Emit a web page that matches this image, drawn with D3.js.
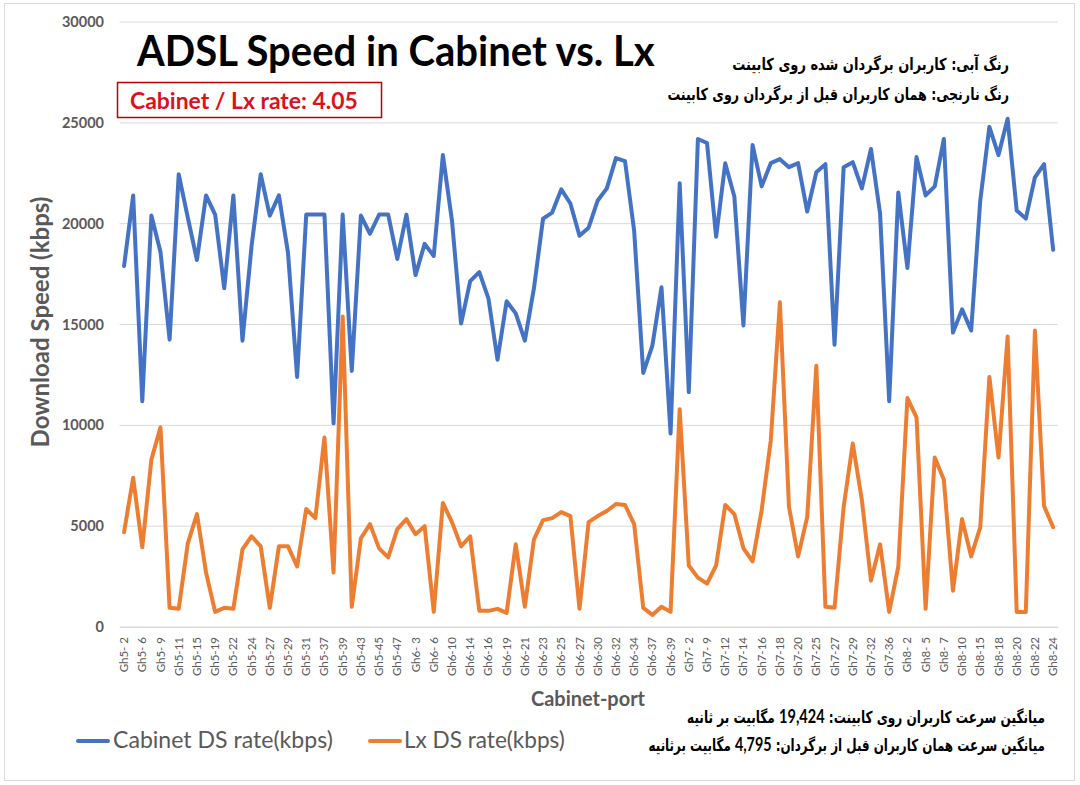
<!DOCTYPE html>
<html>
<head>
<meta charset="utf-8">
<script src="https://cdn.jsdelivr.net/npm/d3@7"></script>
<style>
  body { margin: 0; background: #fff; }
  svg { display: block; }
  text { font-family: Lato, "Open Sans", sans-serif; }
  .fa { font-family: "DejaVu Sans", sans-serif; font-weight: bold; }
</style>
</head>
<body>
<div id="chart"></div>
<script>
"use strict";

let svgWidth = 1080;
let svgHeight = 785;

/* Data */
let ports = [
  "Gh5- 2", "Gh5- 4", "Gh5- 6", "Gh5- 8", "Gh5- 9", "Gh5-10", "Gh5-11", "Gh5-13", "Gh5-15", "Gh5-17",
  "Gh5-19", "Gh5-21", "Gh5-22", "Gh5-23", "Gh5-24", "Gh5-25", "Gh5-27", "Gh5-28", "Gh5-29", "Gh5-30",
  "Gh5-31", "Gh5-35", "Gh5-37", "Gh5-38", "Gh5-39", "Gh5-41", "Gh5-43", "Gh5-44", "Gh5-45", "Gh5-46",
  "Gh5-47", "Gh6- 1", "Gh6- 3", "Gh6- 4", "Gh6- 6", "Gh6- 8", "Gh6-10", "Gh6-12", "Gh6-14", "Gh6-15",
  "Gh6-16", "Gh6-18", "Gh6-19", "Gh6-20", "Gh6-21", "Gh6-22", "Gh6-23", "Gh6-24", "Gh6-25", "Gh6-26",
  "Gh6-27", "Gh6-29", "Gh6-30", "Gh6-31", "Gh6-32", "Gh6-33", "Gh6-34", "Gh6-36", "Gh6-37", "Gh6-38",
  "Gh6-39", "Gh6-40", "Gh7- 2", "Gh7- 5", "Gh7- 9", "Gh7-11", "Gh7-12", "Gh7-13", "Gh7-14", "Gh7-15",
  "Gh7-16", "Gh7-17", "Gh7-18", "Gh7-19", "Gh7-20", "Gh7-22", "Gh7-25", "Gh7-26", "Gh7-27", "Gh7-28",
  "Gh7-29", "Gh7-30", "Gh7-32", "Gh7-34", "Gh7-36", "Gh8- 1", "Gh8- 2", "Gh8- 3", "Gh8- 5", "Gh8- 6",
  "Gh8- 7", "Gh8- 9", "Gh8-10", "Gh8-12", "Gh8-15", "Gh8-17", "Gh8-18", "Gh8-19", "Gh8-20", "Gh8-21",
  "Gh8-22", "Gh8-23", "Gh8-24"
];

// kbps, blue series
let cabinetRate = [
  17900, 21400, 11200, 20400, 18600, 14250, 22450, 20300, 18200, 21400,
  20450, 16800, 21400, 14200, 18900, 22450, 20400, 21400, 18550, 12400,
  20450, 20450, 20450, 10100, 20450, 12700, 20400, 19500, 20450, 20450,
  18250, 20450, 17450, 19000, 18400, 23400, 20150, 15050, 17150, 17600,
  16300, 13250, 16150, 15550, 14200, 16800, 20250, 20550, 21700, 21000,
  19400, 19800, 21150, 21750, 23250, 23100, 19650, 12600, 13950, 16850,
  9600, 22000, 11650, 24200, 24000, 19350, 23000, 21350, 14950, 23900,
  21850, 23000, 23200, 22800, 23000, 20600, 22550, 22950, 14000, 22800,
  23050, 21750, 23700, 20500, 11200, 21550, 17800, 23300, 21400, 21850,
  24200, 14600, 15750, 14700, 21150, 24800, 23400, 25200, 20650, 20250,
  22300, 22950, 18700
];

// kbps, orange series
let lxRate = [
  4700, 7400, 3950, 8300, 9900, 950, 900, 4150, 5600, 2700,
  750, 950, 900, 3850, 4500, 4000, 950, 4000, 4000, 3000,
  5850, 5400, 9400, 2700, 15400, 1000, 4400, 5100, 3900, 3450,
  4850, 5350, 4600, 5000, 750, 6150, 5200, 4000, 4500, 800,
  800, 900, 700, 4100, 1000, 4350, 5300, 5400, 5700, 5500,
  900, 5200, 5500, 5750, 6100, 6050, 5100, 950, 600, 1000,
  750, 10800, 3050, 2450, 2150, 3050, 6050, 5600, 3900, 3250,
  5800, 9250, 16100, 5950, 3500, 5450, 12950, 1000, 950, 5950,
  9100, 6300, 2300, 4100, 750, 3000, 11350, 10400, 900, 8400,
  7300, 1800, 5350, 3500, 4950, 12400, 8400, 14400, 750, 750,
  14700, 6000, 4950
];

let yTicks = [0, 5000, 10000, 15000, 20000, 25000, 30000];
let seriesNames = ["Cabinet DS rate(kbps)", "Lx DS rate(kbps)"];
let seriesColors = ["#4472C4", "#ED7D31"];

let titleText = "ADSL Speed in Cabinet vs. Lx";
let rateText = "Cabinet / Lx rate: 4.05";
let noteTop = [
  "رنگ آبی: کاربران برگردان شده روی کابینت",
  "رنگ نارنجی: همان کاربران قبل از برگردان روی کابینت"
];
let noteBottom = [
  ["میانگین سرعت کاربران روی کابینت: ", "19,424", " مگابیت بر ثانیه"],
  ["میانگین سرعت همان کاربران قبل از برگردان: ", "4,795", " مگابیت برثانیه"]
];

/* Layout */
let plotLeft = 119.5;
let plotRight = 1057.7;
let plotTop = 22;
let plotBottom = 627;
let grey = "#595959";

/* Canvas */
let svg = d3.select("#chart")
  .append("svg")
  .attr("width", svgWidth)
  .attr("height", svgHeight);

svg.append("rect")
  .attr("x", 4.5)
  .attr("y", 3.5)
  .attr("width", 1070)
  .attr("height", 777)
  .attr("fill", "#fff")
  .attr("stroke", "#d9d9d9");

/* scale the font so the text is a given width */
function fitWidth(sel, w) {
  let len = sel.node().getComputedTextLength();
  let fs = parseFloat(sel.attr("font-size"));
  sel.attr("font-size", fs * w / len);
  return sel;
}

/* keep the font size, squeeze the text sideways to a given width */
function squeeze(sel, x, y, w) {
  let len = sel.node().getComputedTextLength();
  sel.attr("transform", `translate(${x},${y}) scale(${w / len},1)`);
  return sel;
}

/* Scales */
let xScale = d3.scaleBand()
  .domain(ports)
  .range([plotLeft, plotRight]);

let xMid = d => xScale(d) + xScale.bandwidth() / 2;

let yScale = d3.scaleLinear()
  .domain([0, 30000])
  .range([plotBottom, plotTop]);

/* Gridlines */
svg.append("g")
  .selectAll("line")
  .data(yTicks)
  .enter()
  .append("line")
  .attr("x1", plotLeft)
  .attr("x2", plotRight)
  .attr("y1", d => yScale(d))
  .attr("y2", d => yScale(d))
  .attr("stroke", "#d9d9d9")
  .attr("stroke-width", 1);

/* Y axis numbers */
let yAxis = svg.append("g")
  .attr("transform", "translate(104,0)")
  .call(d3.axisLeft(yScale).tickValues(yTicks).tickSize(0).tickPadding(0).tickFormat(d3.format("d")));
yAxis.select(".domain").remove();
yAxis.selectAll("text")
  .attr("fill", grey)
  .attr("font-size", 14.5)
  .attr("font-weight", "bold")
  .attr("font-family", "Lato, sans-serif");

/* X axis labels, every second port */
let xAxis = svg.append("g")
  .attr("transform", `translate(0,${plotBottom})`)
  .call(d3.axisBottom(xScale).tickValues(ports.filter((d, i) => i % 2 === 0)).tickSize(0));
xAxis.select(".domain")
  .attr("stroke", "#d9d9d9");
xAxis.selectAll("text")
  .attr("transform", "rotate(-90)")
  .attr("x", -10)
  .attr("y", 0)
  .attr("dy", "0.35em")
  .attr("text-anchor", "end")
  .attr("fill", grey)
  .attr("font-size", 11.5)
  .attr("font-family", "Lato, sans-serif");

/* Lines */
let line = d3.line()
  .x(d => xMid(d.port))
  .y(d => yScale(d.v));

[cabinetRate, lxRate].forEach((vals, s) => {
  svg.append("path")
    .datum(ports.map((p, i) => ({ port: p, v: vals[i] })))
    .attr("fill", "none")
    .attr("stroke", seriesColors[s])
    .attr("stroke-width", 4)
    .attr("stroke-linejoin", "round")
    .attr("stroke-linecap", "round")
    .attr("d", line);
});

/* Axis titles */
fitWidth(svg.append("text")
  .attr("x", 588)
  .attr("y", 706)
  .attr("text-anchor", "middle")
  .attr("font-size", 17)
  .attr("font-weight", "bold")
  .attr("fill", grey)
  .text("Cabinet-port"), 114);

fitWidth(svg.append("text")
  .attr("transform", "translate(49,322) rotate(-90)")
  .attr("text-anchor", "middle")
  .attr("font-size", 20)
  .attr("font-weight", "bold")
  .attr("fill", grey)
  .text("Download Speed (kbps)"), 251);

/* Title */
squeeze(svg.append("text")
  .attr("font-size", 42)
  .attr("font-weight", "bold")
  .attr("fill", "#000")
  .text(titleText), 137, 66, 518);

/* Rate box */
svg.append("rect")
  .attr("x", 117.5)
  .attr("y", 82.5)
  .attr("width", 264)
  .attr("height", 35)
  .attr("fill", "#fff")
  .attr("stroke", "#c00000")
  .attr("stroke-width", 1.5);

squeeze(svg.append("text")
  .attr("font-size", 23)
  .attr("font-weight", "bold")
  .attr("fill", "#d9121b")
  .text(rateText), 130, 109, 228);

/* Persian notes, top right */
let topWidths = [277, 342];
noteTop.forEach((t, i) => {
  squeeze(svg.append("text")
    .attr("class", "fa")
    .attr("direction", "rtl")
    .attr("text-anchor", "start")
    .attr("font-size", 16.5)
    .attr("fill", "#000")
    .text(t), 1009, 70 + i * 30, topWidths[i]);
});

/* Persian notes, bottom right */
let bottomWidths = [358, 397];
noteBottom.forEach((parts, i) => {
  let t = svg.append("text")
    .attr("class", "fa")
    .attr("direction", "rtl")
    .attr("text-anchor", "start")
    .attr("font-size", 16.5)
    .attr("fill", "#000");
  t.append("tspan").text(parts[0]);
  t.append("tspan")
    .attr("font-family", "Lato, sans-serif")
    .attr("font-size", "1.2em")
    .text(parts[1]);
  t.append("tspan").text(parts[2]);
  squeeze(t, 1045, 723 + i * 28, bottomWidths[i]);
});

/* Legend */
let legendX = [78, 370];
seriesNames.forEach((name, i) => {
  svg.append("line")
    .attr("x1", legendX[i])
    .attr("x2", legendX[i] + 30)
    .attr("y1", 741)
    .attr("y2", 741)
    .attr("stroke", seriesColors[i])
    .attr("stroke-width", 4)
    .attr("stroke-linecap", "round");
});

fitWidth(svg.append("text")
  .attr("x", 113)
  .attr("y", 748)
  .attr("font-size", 21)
  .attr("fill", grey)
  .text(seriesNames[0]), 220);

fitWidth(svg.append("text")
  .attr("x", 404)
  .attr("y", 748)
  .attr("font-size", 21)
  .attr("fill", grey)
  .text(seriesNames[1]), 161);
</script>
</body>
</html>
